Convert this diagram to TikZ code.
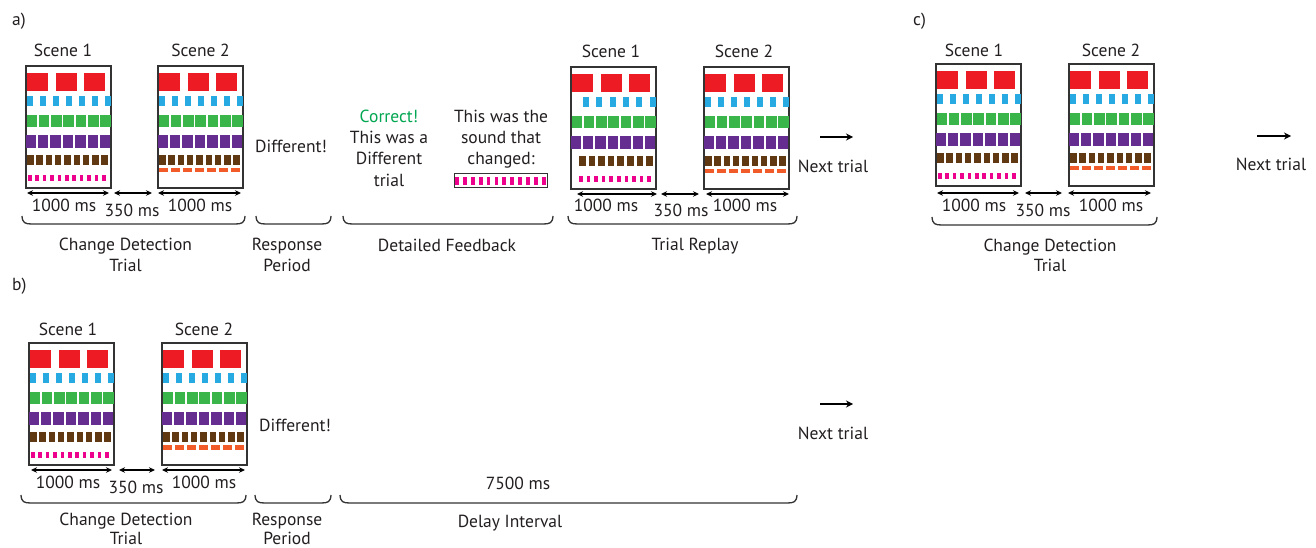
\documentclass[tikz,border=0pt]{standalone}
\usepackage{fontspec}
\setmainfont{PT Sans}
\usetikzlibrary{arrows.meta}
\definecolor{cred}{HTML}{ED1C24}
\definecolor{cblue}{HTML}{27AAE1}
\definecolor{cgreen}{HTML}{39B54A}
\definecolor{cpurple}{HTML}{662D91}
\definecolor{cbrown}{HTML}{603913}
\definecolor{cpink}{HTML}{EC008C}
\definecolor{corange}{HTML}{F15A29}
\definecolor{cline}{HTML}{333333}
\definecolor{ctext}{HTML}{231F20}
\definecolor{cgreentext}{HTML}{00A651}

\newcommand\scenemarks[3]{%
 \foreach \i in {0,1,2} \fill[cred] ({#1+1+\i*28.5},{#2+7}) rectangle ++(21,18);
 \ifnum#3=3
   \foreach \i in {0,...,5} \fill[cblue] ({#1+12+\i*13.3},{#2+30}) rectangle ++(6,10);
 \else
   \foreach \i in {0,...,6} \fill[cblue] ({#1+1+\i*13},{#2+30}) rectangle ++(6,10);
 \fi
 \foreach \i in {0,...,6} \fill[cgreen] ({#1+0.5+\i*12.3},{#2+49}) rectangle ++(10.5,12);
 \foreach \i in {0,...,6} \fill[cpurple] ({#1-0.5+\i*12.4},{#2+69}) rectangle ++(10.5,13);
 \ifnum#3=3
   \foreach \i in {0,...,7} \fill[cbrown] ({#1+8+\i*9.6},{#2+89}) rectangle ++(6.5,10);
 \else
   \foreach \i in {0,...,8} \fill[cbrown] ({#1+1+\i*9.3},{#2+89}) rectangle ++(6.5,10);
 \fi
 \ifnum#3=2
   \foreach \i in {0,...,6} \fill[corange] ({#1+1+\i*12},{#2+102}) rectangle ++(9,4.5);
 \else\ifnum#3=3
   \foreach \i in {0,...,9} \fill[cpink] ({#1+8+\i*7.6},{#2+109}) rectangle ++(3.5,6);
 \else
   \foreach \i in {0,...,10} \fill[cpink] ({#1+2+\i*7.4},{#2+109}) rectangle ++(3.5,6);
 \fi\fi
}
% scene box: name, x, y (top-left), variant
\newcommand\scene[4]{%
 \node[scenebox] (#1) at ({#2+42.5},{#3+61}) {};
 \scenemarks{#2}{#3}{#4}
}
% timeline arrow: name, x1, x2, y
\newcommand\tarrow[4]{%
 \coordinate (#1-l) at (#2,#4);
 \coordinate (#1-r) at (#3,#4);
 \draw[timearrow] (#1-l) -- (#1-r);
}
% flat brace: x1, x2, ytop
\newcommand\tbrace[3]{%
 \draw[bracestyle] (#1,#3) .. controls ({#1+0.5},{#3+7}) and ({#1+3},{#3+8}) .. ({#1+10},{#3+8})
   -- ({#2-10},{#3+8}) .. controls ({#2-3},{#3+8}) and ({#2-0.5},{#3+7}) .. (#2,#3);
}

\begin{document}
\begin{tikzpicture}[x=1pt,y=-1pt,
  lbl/.style={anchor=base, inner sep=0pt, text=ctext, font=\fontsize{17.5pt}{21pt}\selectfont},
  scenebox/.style={draw=cline, line width=1.3pt, minimum width=85pt, minimum height=122pt, inner sep=0pt},
  timearrow/.style={line width=1.3pt, {Stealth[length=6pt,width=5.5pt]}-{Stealth[length=6pt,width=5.5pt]}},
  nextarrow/.style={line width=2pt, -{Stealth[length=7pt,width=7pt]}},
  bracestyle/.style={draw=cline, line width=1.3pt}]
\useasboundingbox[fill=white] (0,0) rectangle (1316,548);

% ===== panel a =====
\node[lbl, anchor=base west] (alab) at (12,26) {a)};
\scene{a1}{26}{66}{1}
\scene{a2}{158}{66}{2}
\node[lbl] (a1t) at (63,57) {Scene 1};
\node[lbl] (a2t) at (200.5,57) {Scene 2};
\tarrow{aa1}{27}{109}{193}
\tarrow{aa2}{114}{152}{193}
\tarrow{aa3}{158}{241}{193}
\node[lbl] (am1) at (64,211.5) {1000 ms};
\node[lbl] (am2) at (132,216) {350 ms};
\node[lbl] (am3) at (200,211.5) {1000 ms};
\tbrace{22}{245}{216}
\tbrace{256}{331}{216}
\tbrace{343}{553}{216}
\tbrace{568}{797}{216}
\node[lbl] (acd1) at (125.5,250.5) {Change Detection};
\node[lbl] (acd2) at (125.5,271) {Trial};
\node[lbl] (adiff) at (291,152.5) {Different!};
\node[lbl] (aresp1) at (287,250.5) {Response};
\node[lbl] (aresp2) at (287,271) {Period};
\node[lbl, text=cgreentext] (fb1) at (389,123) {Correct!};
\node[lbl] (fb2) at (389,144) {This was a};
\node[lbl] (fb3) at (389,165) {Different};
\node[lbl] (fb4) at (389,186) {trial};
\node[lbl] (fs1) at (501,123) {This was the};
\node[lbl] (fs2) at (501,144) {sound that};
\node[lbl] (fs3) at (501,165) {changed:};
\node[draw=cline, line width=1pt, minimum width=93pt, minimum height=14pt, inner sep=0pt] (fbox) at (500.5,181) {};
\foreach \i in {0,...,11} \fill[cpink] ({455+\i*7.9},177.5) rectangle ++(3.8,7.5);
\node[lbl] (afb) at (447,251) {Detailed Feedback};
\scene{r1}{571}{67}{3}
\scene{r2}{704}{67}{2}
\node[lbl] (r1t) at (611,58) {Scene 1};
\node[lbl] (r2t) at (744,58) {Scene 2};
\tarrow{ra1}{577}{657}{194}
\tarrow{ra2}{661}{699}{194}
\tarrow{ra3}{706}{789}{194}
\node[lbl] (rm1) at (606,211.5) {1000 ms};
\node[lbl] (rm2) at (681,216) {350 ms};
\node[lbl] (rm3) at (745,211.5) {1000 ms};
\node[lbl] (atr) at (695,250.5) {Trial Replay};
\coordinate (anx-l) at (820,137);
\coordinate (anx-r) at (853,137);
\draw[nextarrow] (anx-l) -- (anx-r);
\node[lbl] (anext) at (833,172) {Next trial};

% ===== panel c =====
\node[lbl, anchor=base west] (clab) at (913,26) {c)};
\scene{c1}{936}{64}{1}
\scene{c2}{1069}{64}{2}
\node[lbl] (c1t) at (974,57) {Scene 1};
\node[lbl] (c2t) at (1111,57) {Scene 2};
\tarrow{ca1}{937}{1019}{193}
\tarrow{ca2}{1025}{1062}{193}
\tarrow{ca3}{1068}{1151}{193}
\node[lbl] (cm1) at (974,211.5) {1000 ms};
\node[lbl] (cm2) at (1043,216) {350 ms};
\node[lbl] (cm3) at (1111,211.5) {1000 ms};
\tbrace{932}{1157}{217}
\node[lbl] (ccd1) at (1050,251) {Change Detection};
\node[lbl] (ccd2) at (1050,271.5) {Trial};
\coordinate (cnx-l) at (1257,136);
\coordinate (cnx-r) at (1291,136);
\draw[nextarrow] (cnx-l) -- (cnx-r);
\node[lbl] (cnext) at (1271,171) {Next trial};

% ===== panel b =====
\node[lbl, anchor=base west] (blab) at (12,290) {b)};
\scene{b1}{29}{343}{1}
\scene{b2}{162}{343}{2}
\node[lbl] (b1t) at (68,335) {Scene 1};
\node[lbl] (b2t) at (204,335) {Scene 2};
\tarrow{ba1}{31}{112}{470}
\tarrow{ba2}{119}{155}{470}
\tarrow{ba3}{162}{245}{470}
\node[lbl] (bm1) at (68,488.3) {1000 ms};
\node[lbl] (bm2) at (136,493) {350 ms};
\node[lbl] (bm3) at (204,488.3) {1000 ms};
\tbrace{21}{246}{495}
\tbrace{255}{331}{495}
\tbrace{340}{797}{495}
\node[lbl] (bdiff) at (295,431) {Different!};
\node[lbl] (bcd1) at (126,525.5) {Change Detection};
\node[lbl] (bcd2) at (126,544.5) {Trial};
\node[lbl] (bresp1) at (287,525.5) {Response};
\node[lbl] (bresp2) at (287,544.5) {Period};
\node[lbl] (bdel) at (518,489) {7500 ms};
\node[lbl] (bdi) at (510,527) {Delay Interval};
\coordinate (bnx-l) at (820,404);
\coordinate (bnx-r) at (853,404);
\draw[nextarrow] (bnx-l) -- (bnx-r);
\node[lbl] (bnext) at (833,439) {Next trial};
\end{tikzpicture}
\end{document}
